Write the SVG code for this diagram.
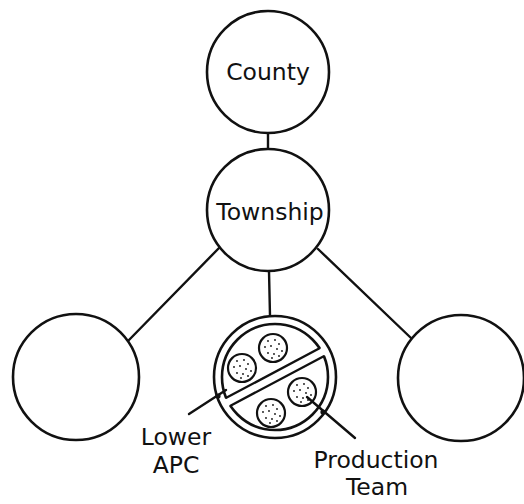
<svg xmlns="http://www.w3.org/2000/svg" width="524" height="504" viewBox="0 0 524 504">
<style>
.c{fill:#fff;stroke:#111;stroke-width:2.6}
.l{stroke:#111;stroke-width:2.4;fill:none;stroke-linecap:round}
.t{font-family:"DejaVu Sans","Open Sans",sans-serif;font-size:23.5px;fill:#111;text-anchor:middle}
.d{fill:#111}
</style>
<defs>
<g id="sc">
<circle r="14" fill="#fff" stroke="#111" stroke-width="2.2"/>
<circle class="d" cx="-5" cy="-7" r="0.9"/><circle class="d" cx="2" cy="-8" r="0.9"/><circle class="d" cx="6" cy="-4" r="0.9"/>
<circle class="d" cx="-8" cy="-1" r="0.9"/><circle class="d" cx="-2" cy="-2" r="0.9"/><circle class="d" cx="4" cy="1" r="0.9"/>
<circle class="d" cx="9" cy="3" r="0.9"/><circle class="d" cx="-5" cy="5" r="0.9"/><circle class="d" cx="1" cy="6" r="0.9"/>
<circle class="d" cx="6" cy="8" r="0.9"/><circle class="d" cx="-1" cy="10" r="0.9"/>
</g>
</defs>
<g id="connectors">
<line class="l" x1="268" y1="133" x2="268" y2="149"/>
<line class="l" x1="269" y1="271" x2="270" y2="316"/>
<line class="l" x1="219" y1="248" x2="128" y2="341"/>
<line class="l" x1="318" y1="249" x2="411" y2="338"/>
</g>
<g id="county">
<circle class="c" cx="268" cy="72" r="61"/>
<text class="t" x="268" y="80">County</text>
</g>
<g id="township">
<circle class="c" cx="268" cy="210" r="61"/>
<text class="t" x="270" y="220">Township</text>
</g>
<g id="left">
<circle class="c" cx="76" cy="377" r="63"/>
</g>
<g id="right">
<circle class="c" cx="461" cy="378" r="63"/>
</g>
<g id="lower-apc">
<circle class="c" cx="275" cy="377" r="61"/>
<circle class="c" cx="275" cy="377" r="53"/>
<g transform="rotate(-28 275 377)">
<rect x="218" y="372.5" width="114" height="9" fill="#fff"/>
<line class="l" x1="222.2" y1="372.5" x2="327.8" y2="372.5"/>
<line class="l" x1="222.2" y1="381.5" x2="327.8" y2="381.5"/>
</g>
<use href="#sc" x="273" y="348"/>
<use href="#sc" x="242" y="368"/>
<use href="#sc" x="302" y="392"/>
<use href="#sc" x="271" y="413"/>
<line class="l" x1="189" y1="414" x2="226" y2="390"/>
<circle class="d" cx="218" cy="396" r="2.6"/>
<line class="l" x1="307" y1="397" x2="355" y2="438"/>
<circle class="d" cx="323" cy="412" r="2.6"/>
<text class="t" x="176" y="445">Lower</text>
<text class="t" x="176" y="473">APC</text>
<text class="t" x="376" y="468">Production</text>
<text class="t" x="377" y="495">Team</text>
</g>
</svg>
